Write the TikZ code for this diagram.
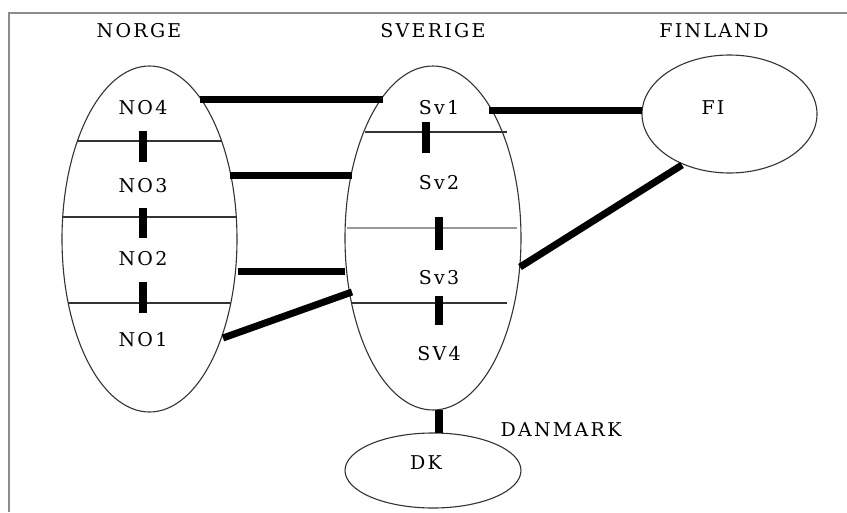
\documentclass[tikz,border=0pt]{standalone}
\usepackage{fontspec}
\setmainfont{DejaVu Serif}[LetterSpace=12]
\usetikzlibrary{shapes.geometric}
\begin{document}
\begin{tikzpicture}[x=1pt,y=-1pt,
  region/.style={draw=black!80, line width=1.1pt, ellipse, inner sep=0pt, outer sep=0pt},
  lbl/.style={inner sep=0pt, font=\fontsize{19}{22}\selectfont},
  link/.style={line width=7pt, black},
  bar/.style={line width=8pt, black},
  chord/.style={line width=1.1pt, black!80},
  chordg/.style={line width=1.6pt, black!40},
  frame/.style={line width=2pt, black!45}]
\useasboundingbox (0,0) rectangle (847,512);
\fill[white] (0,0) rectangle (847,512);
% frame
\coordinate (ftl) at (9,13);
\coordinate (ftr) at (847,13);
\coordinate (fbl) at (9,512);
\draw[frame] (ftr) -- (ftl) -- (fbl);
% regions
\node[region, minimum width=175pt, minimum height=346pt] (no) at (149.5,239) {};
\node[region, minimum width=176pt, minimum height=344pt] (sv) at (433,238) {};
\node[region, minimum width=175pt, minimum height=118pt] (fi) at (729.5,114) {};
\node[region, minimum width=176pt, minimum height=75pt] (dk) at (433,470.5) {};
% country titles
\node[lbl] (tno) at (139,31) {NORGE};
\node[lbl] (tsv) at (433,31) {SVERIGE};
\node[lbl] (tfi) at (714,31) {FINLAND};
\node[lbl] (tdk) at (561,430) {DANMARK};
% chords in Norge
\coordinate (n1a) at (77,141);  \coordinate (n1b) at (222,141);
\coordinate (n2a) at (62,217);  \coordinate (n2b) at (237,217);
\coordinate (n3a) at (68,303);  \coordinate (n3b) at (231,303);
\draw[chord] (n1a) -- (n1b);
\draw[chord] (n2a) -- (n2b);
\draw[chord] (n3a) -- (n3b);
% chords in Sverige
\coordinate (s1a) at (365,132); \coordinate (s1b) at (507,132);
\coordinate (s2a) at (347,228); \coordinate (s2b) at (517,228);
\coordinate (s3a) at (352,303); \coordinate (s3b) at (507,303);
\draw[chord] (s1a) -- (s1b);
\draw[chordg] (s2a) -- (s2b);
\draw[chord] (s3a) -- (s3b);
% area labels
\node[lbl] (no4) at (143,108) {NO4};
\node[lbl] (no3) at (143,186) {NO3};
\node[lbl] (no2) at (143,259) {NO2};
\node[lbl] (no1) at (143,340) {NO1};
\node[lbl] (sv1) at (439,108) {Sv1};
\node[lbl] (sv2) at (439,183) {Sv2};
\node[lbl] (sv3) at (439,278) {Sv3};
\node[lbl] (sv4) at (439,354) {SV4};
\node[lbl] (fil) at (713,108) {FI};
\node[lbl] (dkl) at (426,463) {DK};
% internal bars
\coordinate (b1a) at (143,131); \coordinate (b1b) at (143,162);
\coordinate (b2a) at (143,208); \coordinate (b2b) at (143,238);
\coordinate (b3a) at (143,282); \coordinate (b3b) at (143,313);
\coordinate (b4a) at (426,122); \coordinate (b4b) at (426,153);
\coordinate (b5a) at (439,217); \coordinate (b5b) at (439,250);
\coordinate (b6a) at (439,296); \coordinate (b6b) at (439,325);
\coordinate (b7a) at (439,410); \coordinate (b7b) at (439,433);
\draw[bar] (b1a) -- (b1b);
\draw[bar] (b2a) -- (b2b);
\draw[bar] (b3a) -- (b3b);
\draw[bar] (b4a) -- (b4b);
\draw[bar] (b5a) -- (b5b);
\draw[bar] (b6a) -- (b6b);
\draw[bar] (b7a) -- (b7b);
% links between countries
\coordinate (no4e) at (200,99);  \coordinate (sv1w) at (383,99);
\coordinate (no3e) at (230,175); \coordinate (sv2w) at (352,175);
\coordinate (no2e) at (238,271); \coordinate (sv3w) at (345,271);
\coordinate (no1e) at (223,338); \coordinate (sv3sw) at (352,292);
\coordinate (sv1e) at (489,110); \coordinate (fiw) at (642,110);
\coordinate (sv3e) at (520,267); \coordinate (fisw) at (682,165);
\draw[link] (no4e) -- (sv1w);
\draw[link] (no3e) -- (sv2w);
\draw[link] (no2e) -- (sv3w);
\draw[link] (no1e) -- (sv3sw);
\draw[link] (sv1e) -- (fiw);
\draw[link] (sv3e) -- (fisw);
\end{tikzpicture}
\end{document}
